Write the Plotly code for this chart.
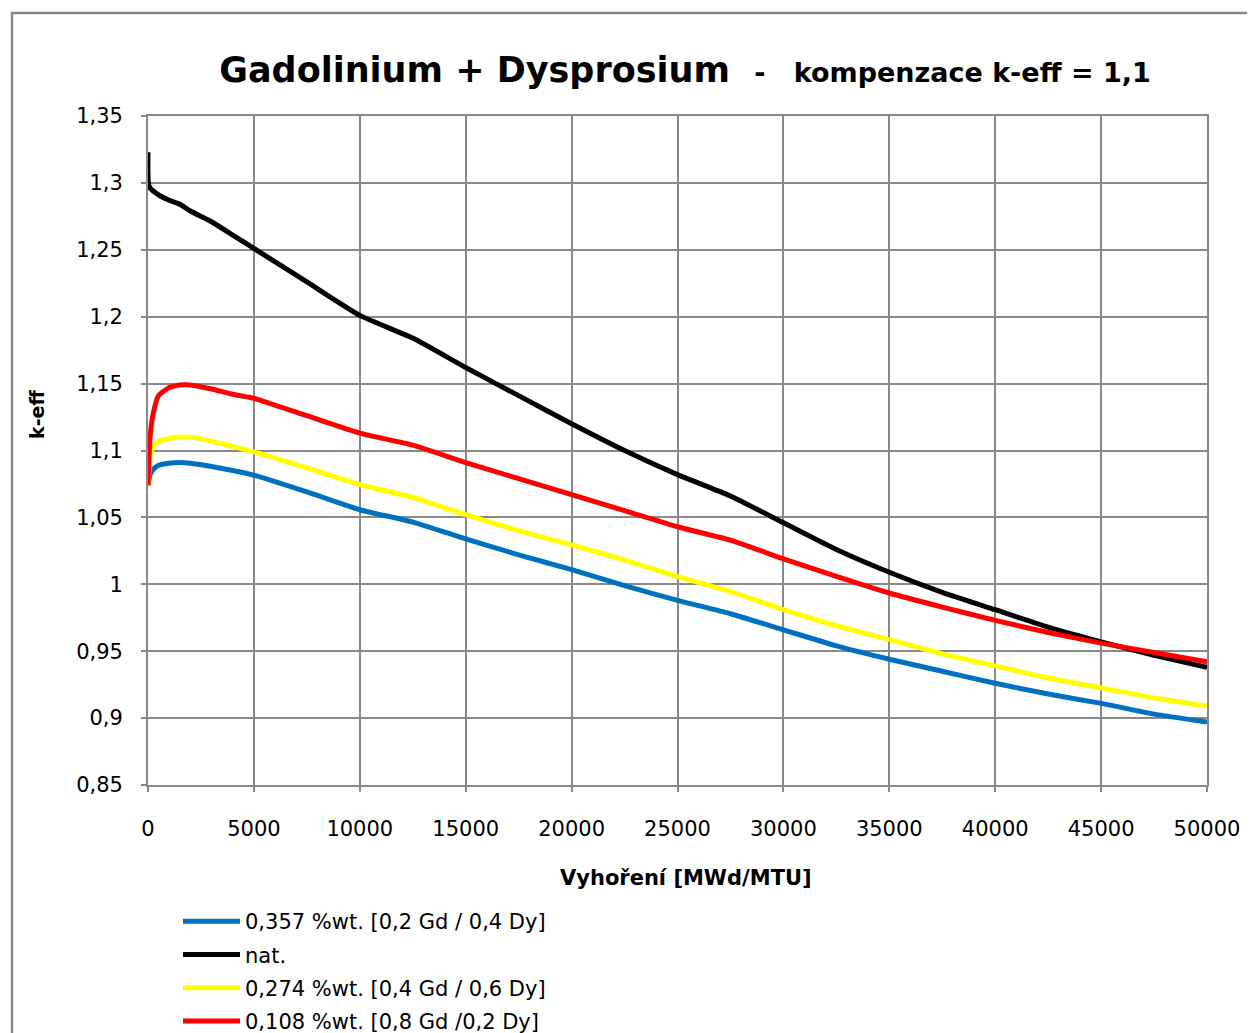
import plotly.graph_objects as go

# ---------------- data ----------------
burnup_nat = [0, 60, 500, 1000, 1500, 2000, 3000, 4000, 5000, 7500, 10000, 12500, 15000,
              17500, 20000, 22500, 25000, 27500, 30000, 32500, 35000, 37500, 40000,
              42500, 45000, 47500, 50000]
keff_nat = [1.323, 1.297, 1.291, 1.287, 1.284, 1.279, 1.271, 1.261, 1.251, 1.226, 1.201,
            1.184, 1.162, 1.141, 1.120, 1.100, 1.082, 1.066, 1.046, 1.026, 1.009, 0.994,
            0.981, 0.968, 0.957, 0.947, 0.938]

burnup = [0, 100, 250, 500, 1000, 1500, 2000, 3000, 4000, 5000, 7500, 10000, 12500, 15000,
          17500, 20000, 22500, 25000, 27500, 30000, 32500, 35000, 37500, 40000, 42500,
          45000, 47500, 50000]
keff_blue = [1.074, 1.082, 1.086, 1.089, 1.0905, 1.091, 1.0905, 1.088, 1.085, 1.0815, 1.069,
             1.0557, 1.0465, 1.034, 1.022, 1.011, 0.999, 0.988, 0.978, 0.966, 0.954, 0.944,
             0.935, 0.926, 0.918, 0.911, 0.903, 0.897]
keff_yellow = [1.074, 1.095, 1.103, 1.107, 1.109, 1.110, 1.110, 1.107, 1.103, 1.099, 1.087,
               1.0745, 1.065, 1.052, 1.040, 1.0295, 1.018, 1.0057, 0.9945, 0.981, 0.969,
               0.9586, 0.948, 0.939, 0.930, 0.9226, 0.915, 0.909]
keff_red = [1.074, 1.110, 1.128, 1.141, 1.147, 1.149, 1.149, 1.146, 1.142, 1.139, 1.126,
            1.113, 1.104, 1.091, 1.079, 1.067, 1.055, 1.043, 1.033, 1.019, 1.006, 0.9935,
            0.983, 0.973, 0.964, 0.956, 0.949, 0.942]

series_names = ["0,357 %wt. [0,2 Gd / 0,4 Dy]", "nat.",
                "0,274 %wt. [0,4 Gd / 0,6 Dy]", "0,108 %wt. [0,8 Gd /0,2 Dy]"]
series_colors = ["#0070C0", "#000000", "#FFFF00", "#FF0000"]

xtick_vals = [0, 5000, 10000, 15000, 20000, 25000, 30000, 35000, 40000, 45000, 50000]
xtick_text = ["0", "5000", "10000", "15000", "20000", "25000", "30000", "35000",
              "40000", "45000", "50000"]
ytick_vals = [0.85, 0.9, 0.95, 1.0, 1.05, 1.1, 1.15, 1.2, 1.25, 1.3, 1.35]
ytick_text = ["0,85", "0,9", "0,95", "1", "1,05", "1,1", "1,15", "1,2", "1,25", "1,3", "1,35"]

title_main = "Gadolinium + Dysprosium"
title_sub = "kompenzace k-eff = 1,1"
x_title = "Vyhoření [MWd/MTU]"
y_title = "k-eff"

# ---------------- figure ----------------
FONT = "DejaVu Sans"
GRID = "#898989"

fig = go.Figure()
xs = [burnup, burnup_nat, burnup, burnup]
ys = [keff_blue, keff_nat, keff_yellow, keff_red]
for i in range(4):
    fig.add_trace(go.Scatter(
        x=xs[i], y=ys[i], mode="lines", name=series_names[i],
        legendgroup=f"g{i}",
        line=dict(color=series_colors[i], width=5, shape="spline", smoothing=0.5),
    ))

W, H = 1255, 1033
OFF = 8  # page body offset
L, R, T, B = 148 - OFF, 1207 - OFF, 116 - OFF, 785 - OFF
pw, ph = R - L, B - T


def px(xr):
    return (xr - OFF - L) / pw


def py(yr):
    return (B - (yr - OFF)) / ph


fig.update_layout(
    width=W, height=H,
    margin=dict(l=L, r=W - R, t=T, b=H - B, autoexpand=False),
    paper_bgcolor="white", plot_bgcolor="white",
    font=dict(family=FONT, size=21, color="black"),
    showlegend=True,
    legend=dict(
        xref="container", yref="container",
        x=170 / W, y=1 - 893 / H, xanchor="left", yanchor="top",
        font=dict(family=FONT, size=21, color="black"),
        itemwidth=57, tracegroupgap=3, bgcolor="rgba(0,0,0,0)",
    ),
    title=dict(
        text=(f"<span style='font-size:35px'>{title_main}\u00a0\u00a0</span>"
              f"<span style='font-size:27px'>-\u00a0\u00a0\u00a0{title_sub}</span>"),
        xref="container", yref="container",
        x=677 / W, xanchor="center", y=1 - 62 / H, yanchor="middle",
        font=dict(family=FONT, size=35, color="black", weight="bold"),
    ),
)

fig.update_xaxes(
    range=[0, 50000], tickvals=xtick_vals, ticktext=xtick_text, tickangle=0,
    showgrid=True, gridcolor=GRID, gridwidth=1.8,
    showline=True, linecolor=GRID, linewidth=1.8, mirror=True,
    ticks="outside", ticklen=5, tickcolor=GRID, tickwidth=1.5,
    ticklabelstandoff=19,
    tickfont=dict(family=FONT, size=21, color="black"),
    zeroline=False,
)
fig.update_yaxes(
    range=[0.85, 1.35], tickvals=ytick_vals, ticktext=ytick_text,
    showgrid=True, gridcolor=GRID, gridwidth=1.8,
    showline=True, linecolor=GRID, linewidth=1.8, mirror=True,
    ticks="outside", ticklen=5, tickcolor=GRID, tickwidth=1.5,
    ticklabelstandoff=14,
    tickfont=dict(family=FONT, size=21, color="black"),
    zeroline=False,
)

fig.add_annotation(
    text=f"<b>{x_title}</b>", xref="paper", yref="paper",
    x=px(686), y=py(878), xanchor="center", yanchor="middle",
    showarrow=False, font=dict(family=FONT, size=21, color="black"),
)
fig.add_annotation(
    text=f"<b>{y_title}</b>", xref="paper", yref="paper", textangle=-90,
    x=px(37), y=py(415), xanchor="center", yanchor="middle",
    showarrow=False, font=dict(family=FONT, size=19, color="black"),
)

# outer chart frame
fig.add_shape(
    type="rect", xref="paper", yref="paper",
    x0=px(12), x1=px(1300), y0=py(1100), y1=py(13),
    line=dict(color="#888888", width=2.5), fillcolor="rgba(0,0,0,0)", layer="below",
)

fig.write_html("out.html")
